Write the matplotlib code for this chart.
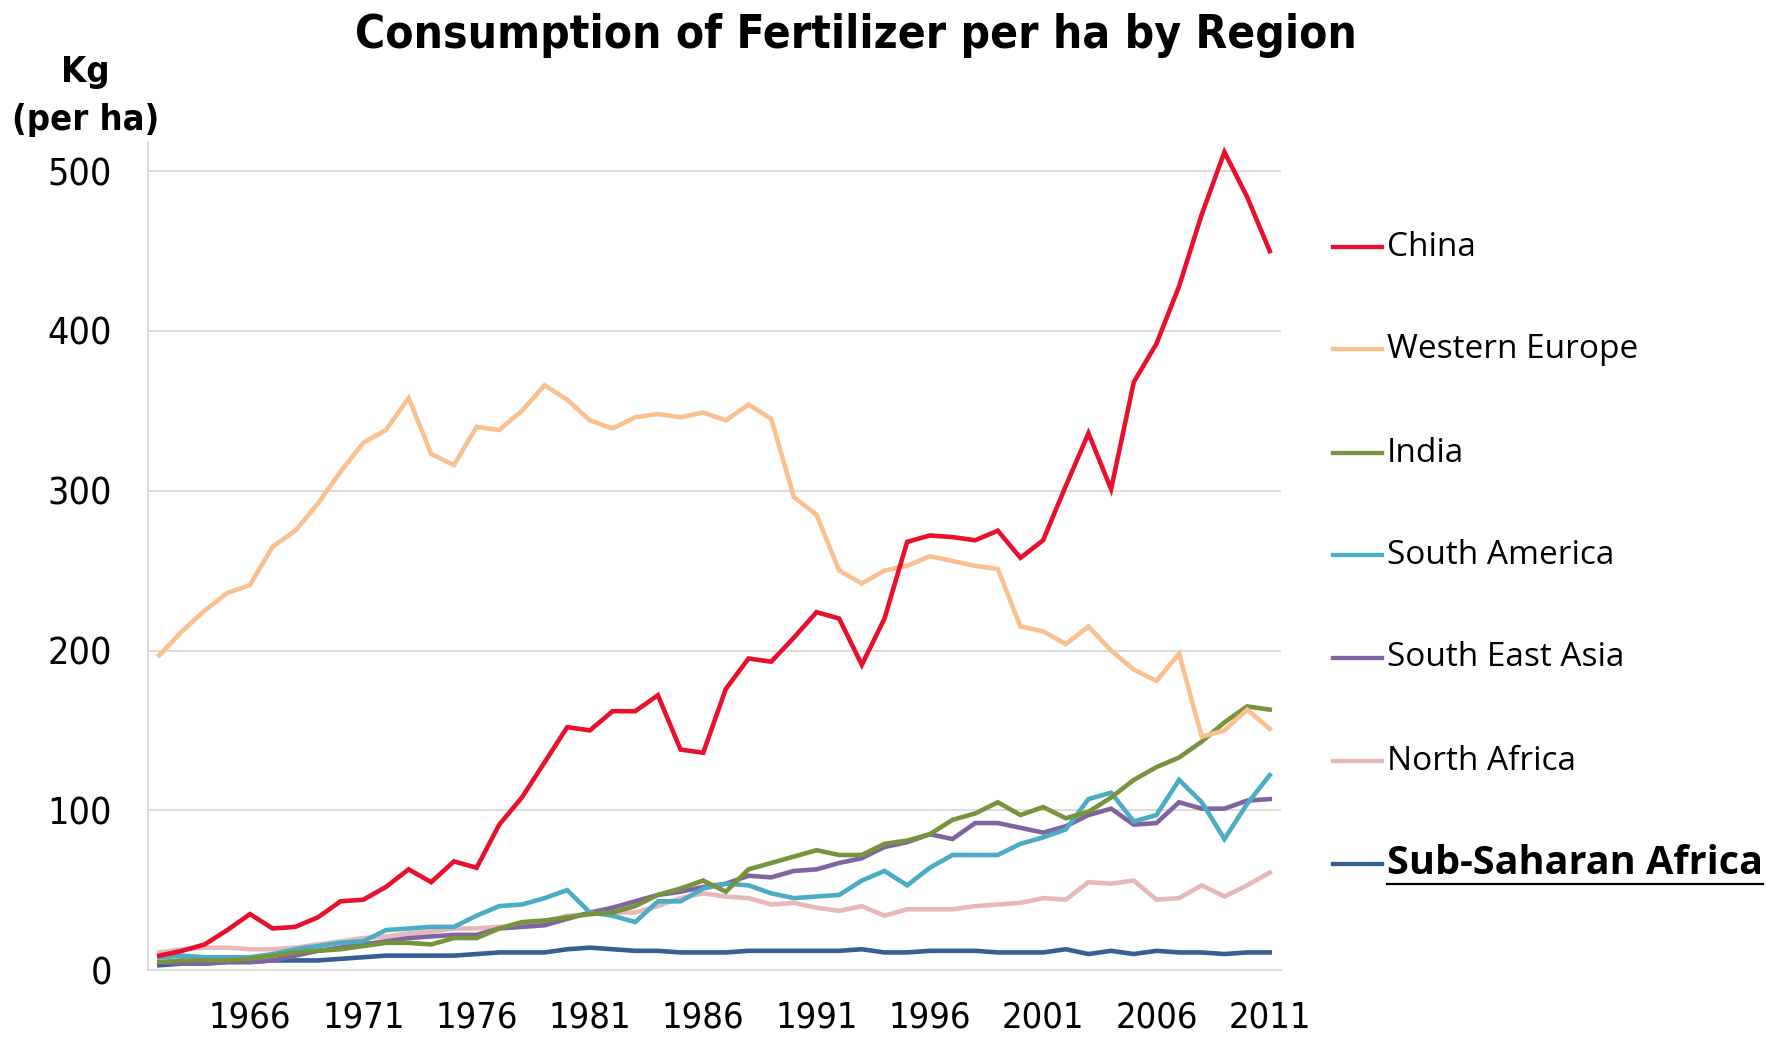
#!/usr/bin/env python3

import matplotlib
matplotlib.use("Agg")
import matplotlib.pyplot as plt
from matplotlib.lines import Line2D

# Data (kg of fertilizer per ha), 1962-2011
years = list(range(1962, 2012))

china = [9, 12, 16, 25, 35, 26, 27, 33, 43, 44,
         52, 63, 55, 68, 64, 91, 108, 130, 152, 150,
         162, 162, 172, 138, 136, 176, 195, 193, 208, 224,
         220, 191, 220, 268, 272, 271, 269, 275, 258, 269,
         303, 336, 301, 368, 392, 428, 473, 512, 484, 450]
western_europe = [197, 212, 225, 236, 241, 265, 275, 292, 312, 330,
                  338, 358, 323, 316, 340, 338, 350, 366, 357, 344,
                  339, 346, 348, 346, 349, 344, 354, 345, 296, 285,
                  250, 242, 250, 253, 259, 256, 253, 251, 215, 212,
                  204, 215, 200, 188, 181, 198, 146, 150, 163, 151]
india = [5, 6, 6, 6, 7, 9, 11, 12, 13, 15,
         17, 17, 16, 20, 20, 26, 30, 31, 33, 35,
         36, 40, 47, 51, 56, 49, 63, 67, 71, 75,
         72, 72, 79, 81, 85, 94, 98, 105, 97, 102,
         95, 99, 108, 119, 127, 133, 143, 155, 165, 163]
south_america = [8, 9, 8, 8, 8, 10, 13, 15, 17, 18,
                 25, 26, 27, 27, 34, 40, 41, 45, 50, 36,
                 34, 30, 43, 43, 51, 54, 53, 48, 45, 46,
                 47, 56, 62, 53, 64, 72, 72, 72, 79, 83,
                 88, 107, 111, 93, 97, 119, 105, 82, 104, 122]
south_east_asia = [5, 4, 4, 5, 5, 6, 9, 12, 14, 16,
                   18, 20, 21, 22, 22, 26, 27, 28, 32, 36,
                   39, 43, 47, 49, 52, 54, 59, 58, 62, 63,
                   67, 70, 77, 80, 85, 82, 92, 92, 89, 86,
                   90, 97, 101, 91, 92, 105, 101, 101, 106, 107]
north_africa = [11, 13, 14, 14, 13, 13, 14, 16, 18, 20,
                21, 23, 24, 26, 26, 27, 27, 30, 34, 35,
                36, 36, 40, 45, 48, 46, 45, 41, 42, 39,
                37, 40, 34, 38, 38, 38, 40, 41, 42, 45,
                44, 55, 54, 56, 44, 45, 53, 46, 53, 61]
sub_saharan_africa = [3, 4, 4, 5, 5, 6, 6, 6, 7, 8,
                      9, 9, 9, 9, 10, 11, 11, 11, 13, 14,
                      13, 12, 12, 11, 11, 11, 12, 12, 12, 12,
                      12, 13, 11, 11, 12, 12, 12, 11, 11, 11,
                      13, 10, 12, 10, 12, 11, 11, 10, 11, 11]

regions = ["China", "Western Europe", "India", "South America",
           "South East Asia", "North Africa", "Sub-Saharan Africa"]
series = [china, western_europe, india, south_america,
          south_east_asia, north_africa, sub_saharan_africa]
colors = ["#E8102D", "#FAC08F", "#77933C", "#4BACC6",
          "#8064A2", "#E6B9B8", "#376092"]

tick_years = list(range(1966, 2012, 5))
y_ticks = [0, 100, 200, 300, 400, 500]

NARROW = dict(family="DejaVu Sans", stretch="condensed")
LEGEND_FONT = ["Open Sans", "DejaVu Sans"]

fig = plt.figure(figsize=(17.83, 10.37), dpi=100)
ax = fig.add_axes([0.083, 0.0646, 0.6355, 0.798])

# draw in reverse so China ends up on top
x_pos = list(range(len(years)))
for values, color in reversed(list(zip(series, colors))):
    ax.plot(x_pos, values, color=color, linewidth=3.3,
            solid_joinstyle="miter")

ax.set_xlim(-0.5, len(years) - 0.5)
ax.set_ylim(0, 518)
ax.set_yticks(y_ticks)
ax.set_yticklabels([str(v) for v in y_ticks], fontsize=27, **NARROW)
ax.set_xticks([years.index(y) for y in tick_years])
ax.set_xticklabels([str(y) for y in tick_years], fontsize=26, **NARROW)
ax.tick_params(length=0)
ax.tick_params(axis="x", pad=22)
ax.tick_params(axis="y", pad=26)
ax.grid(axis="y", color="#D9D9D9", linewidth=1.3)
ax.set_axisbelow(True)
for side in ["top", "right"]:
    ax.spines[side].set_visible(False)
for side in ["left", "bottom"]:
    ax.spines[side].set_color("#D9D9D9")
    ax.spines[side].set_linewidth(1.3)

fig.text(0.480, 0.966, "Consumption of Fertilizer per ha by Region",
         ha="center", va="center", fontweight="bold", fontsize=33,
         **NARROW)
fig.text(0.048, 0.931, "Kg", ha="center", va="center",
         fontweight="bold", fontsize=26, **NARROW)
fig.text(0.048, 0.884, "(per ha)", ha="center", va="center",
         fontweight="bold", fontsize=26, **NARROW)

# Legend, one row per region
row_y = [247, 349, 453, 555, 658, 761, 864]
for i, (name, color) in enumerate(zip(regions, colors)):
    yf = 1 - row_y[i] / 1037
    fig.add_artist(Line2D([1333 / 1783, 1382 / 1783], [yf, yf],
                          color=color, linewidth=3.1))
    if name == "Sub-Saharan Africa":
        t = fig.text(1387 / 1783, yf, name, ha="left", va="center",
                     family=LEGEND_FONT, fontweight="bold", fontsize=28.5)
        fig.canvas.draw()
        bb = t.get_window_extent().transformed(fig.transFigure.inverted())
        fig.add_artist(Line2D([bb.x0, bb.x1], [bb.y0, bb.y0],
                              color="black", linewidth=1.6))
    else:
        fig.text(1387 / 1783, yf, name, ha="left", va="center",
                 family=LEGEND_FONT, fontsize=24)

fig.savefig("out.png", dpi=100)
